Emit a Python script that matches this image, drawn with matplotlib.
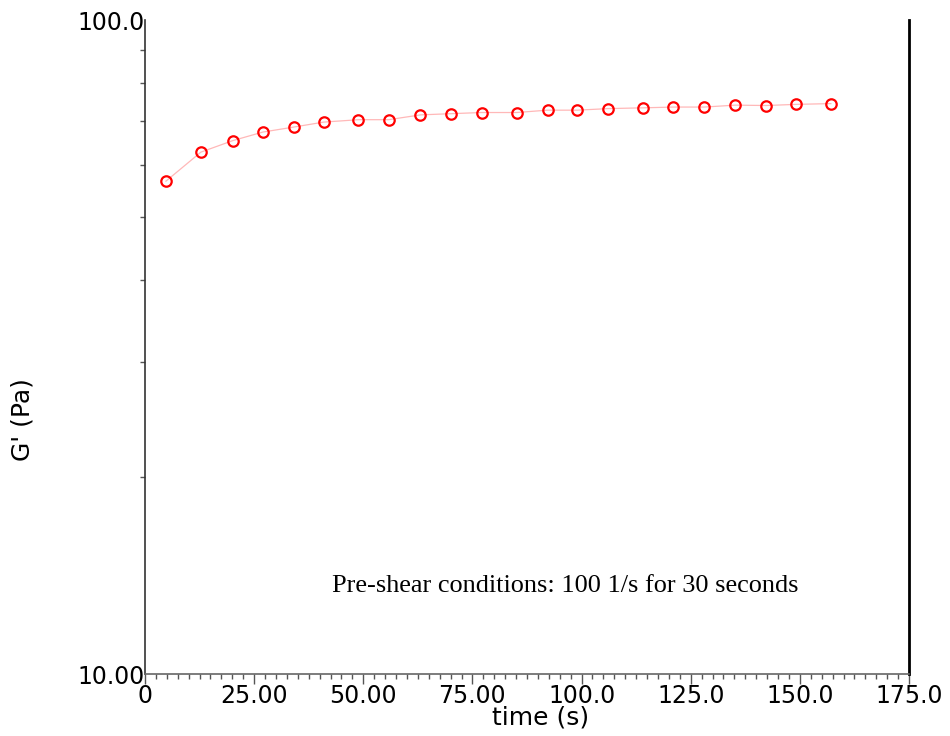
import matplotlib
matplotlib.use("Agg")
import matplotlib.pyplot as plt
from matplotlib.ticker import FixedLocator, FixedFormatter, NullFormatter, MultipleLocator

time_s = [4.8, 12.8, 20.1, 27.0, 34.1, 40.9, 48.9, 55.8, 63.1, 70.0, 77.1,
          85.1, 92.2, 99.0, 106.1, 114.1, 121.0, 128.1, 135.2, 142.3, 149.1, 157.1]
g_prime = [56.7, 62.8, 65.4, 67.4, 68.6, 69.8, 70.4, 70.4, 71.6, 71.9, 72.2,
           72.2, 72.8, 72.8, 73.2, 73.4, 73.6, 73.6, 74.1, 74.0, 74.3, 74.5]
x_ticks = [0, 25, 50, 75, 100, 125, 150, 175]
x_tick_labels = ["0", "25.00", "50.00", "75.00", "100.0", "125.0", "150.0", "175.0"]
y_ticks = [10, 100]
y_tick_labels = ["10.00", "100.0"]
annotation = "Pre-shear conditions: 100 1/s for 30 seconds"

fig = plt.figure(figsize=(9.5, 7.36), dpi=100)
ax = fig.add_axes([145/950, 62/736, 764/950, 654/736])

ax.plot(time_s, g_prime, color="#ffb8b8", lw=0.9, zorder=2)
ax.plot(time_s, g_prime, ls="none", marker="o", ms=7.5, mfc="none",
        mec="#ff0000", mew=1.6, zorder=3)

ax.set_yscale("log")
ax.set_xlim(0, 175)
ax.set_ylim(10, 100)

ax.xaxis.set_major_locator(FixedLocator(x_ticks))
ax.xaxis.set_major_formatter(FixedFormatter(x_tick_labels))
ax.xaxis.set_minor_locator(MultipleLocator(2.5))
ax.yaxis.set_major_locator(FixedLocator(y_ticks))
ax.yaxis.set_major_formatter(FixedFormatter(y_tick_labels))
ax.yaxis.set_minor_locator(FixedLocator([20, 30, 40, 50, 60, 70, 80, 90]))
ax.yaxis.set_minor_formatter(NullFormatter())

ax.tick_params(axis="x", which="major", direction="out", length=7, width=1,
               color="#555555", labelsize=17, pad=0)
ax.tick_params(axis="x", which="minor", direction="out", length=3.5, width=1,
               color="#555555")
ax.tick_params(axis="y", which="major", length=0, labelsize=17, pad=0)
ax.tick_params(axis="y", which="minor", direction="out", length=3.5, width=1,
               color="#555555")

for lab in ax.get_xticklabels() + ax.get_yticklabels():
    lab.set_fontfamily("DejaVu Sans")

ax.spines["top"].set_visible(False)
ax.spines["left"].set_color("#333333")
ax.spines["left"].set_linewidth(1.2)
ax.spines["bottom"].set_color("#666666")
ax.spines["bottom"].set_linewidth(1.2)
ax.spines["right"].set_color("black")
ax.spines["right"].set_linewidth(2)

ax.set_xlabel("time (s)", fontsize=18, family="DejaVu Sans")
ax.xaxis.set_label_coords((541 - 145) / 764, (674 - 718) / 654)
ax.xaxis.label.set_va("center")
ax.set_ylabel("G' (Pa)", fontsize=18, family="DejaVu Sans")
ax.yaxis.set_label_coords((22 - 145) / 764, (674 - 420) / 654)
ax.yaxis.label.set_va("center")

ax.text(0.55, 0.135, annotation, transform=ax.transAxes, ha="center", va="center",
        fontsize=18.9, family="Liberation Serif")

fig.savefig("out.png", dpi=100)
